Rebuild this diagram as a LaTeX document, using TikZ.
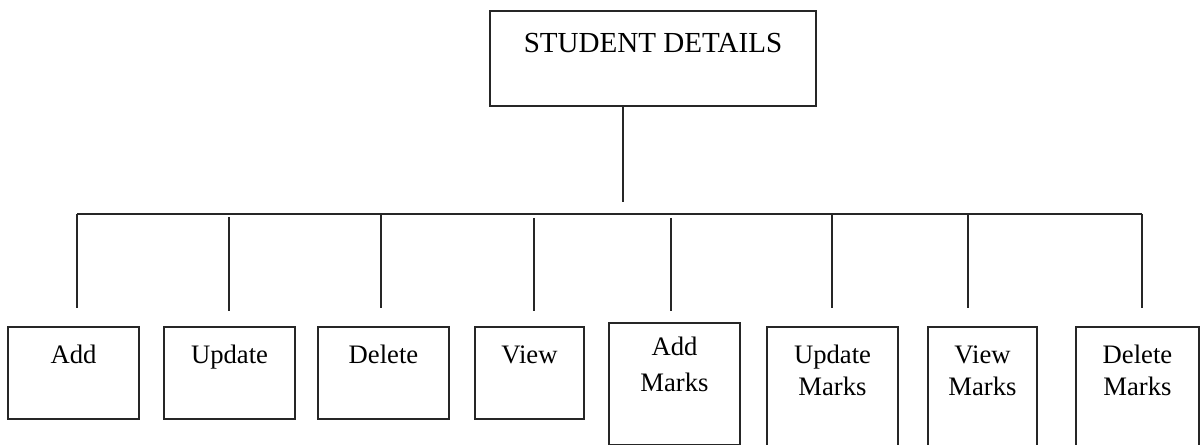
\documentclass[tikz,border=0pt]{standalone}
\usepackage{fontspec}
\setmainfont{Liberation Serif}
\usepackage{tikz}
\usetikzlibrary{positioning}
\tikzset{
	x={(0.75pt,0pt)}, % one unit is one pixel of the picture
	y={(0pt,-0.75pt)}, % rows count downwards
	every node/.style={font=\fontsize{20pt}{24pt}\selectfont},
	box/.style={draw=black!85, line width=1.2pt, fill=white, anchor=north, inner sep=0pt, minimum width=98.25pt, minimum height=69pt}, % the module boxes
	lbl/.style={anchor=base, inner sep=0pt, align=center, yshift=-27.75pt}, % one line at the top of a box
	lbltwo/.style={lbl, yshift=-24pt}, % two lines: base is the last line
	link/.style={draw=black!85, line width=1.2pt}, % the tree lines
}
\begin{document}
\begin{tikzpicture}
	\useasboundingbox (0,0) rectangle (1201,445);
	\clip (0,0) rectangle (1201,445);
			\node[box, minimum width=244.5pt, minimum height=71.25pt, label={[lbl, yshift=-4.5pt, font=\fontsize{21.8pt}{26pt}\selectfont]north:STUDENT DETAILS}] (details) at (653,10) {};
			\node[box, label={[lbl]north:Add}] (add) at (73.5,326) {};
			\node[box, label={[lbl]north:Update}] (update) at (229.5,326) {};
			\node[box, label={[lbl]north:Delete}] (delete) at (383.5,326) {};
			\node[box, minimum width=81.75pt, label={[lbl]north:View}] (view) at (529.5,326) {};
			\node[box, minimum height=91.5pt, label={[lbltwo, yshift=0pt]north:Add\\[3pt]Marks}] (addmarks) at (674.5,322) {};
			\node[box, minimum height=108pt, label={[lbltwo]north:Update\\Marks}] (updmarks) at (832.5,326) {};
			\node[box, minimum width=81.75pt, minimum height=108pt, label={[lbltwo]north:View\\Marks}] (viewmarks) at (982.5,326) {};
			\node[box, minimum width=92.25pt, minimum height=108pt, label={[lbltwo]north:Delete\\Marks}] (delmarks) at (1137.5,326) {};
	% the bar and where the lines drop from it
	\coordinate (stem) at (623,202);
	\coordinate (b1) at (77,214);
	\coordinate (b2) at (229,214);
	\coordinate (b3) at (381,214);
	\coordinate (b4) at (534,214);
	\coordinate (b5) at (671,214);
	\coordinate (b6) at (832,214);
	\coordinate (b7) at (968,214);
	\coordinate (b8) at (1142,214);
	\draw[link] (details.south -| stem) -- (stem);
	\draw[link] (b1) -- (b8);
	\draw[link] (b1) -- ([yshift=13.5pt]b1 |- add.north)
			([yshift=-2.25pt]b2) -- ([yshift=11.25pt]b2 |- update.north)
			(b3) -- ([yshift=13.5pt]b3 |- delete.north)
			([yshift=-3pt]b4) -- ([yshift=11.25pt]b4 |- view.north)
			([yshift=-3pt]b5) -- ([yshift=8.25pt]b5 |- addmarks.north)
			(b6) -- ([yshift=13.5pt]b6 |- updmarks.north)
			(b7) -- ([yshift=13.5pt]b7 |- viewmarks.north)
			(b8) -- ([yshift=13.5pt]b8 |- delmarks.north);
\end{tikzpicture}
\end{document}
